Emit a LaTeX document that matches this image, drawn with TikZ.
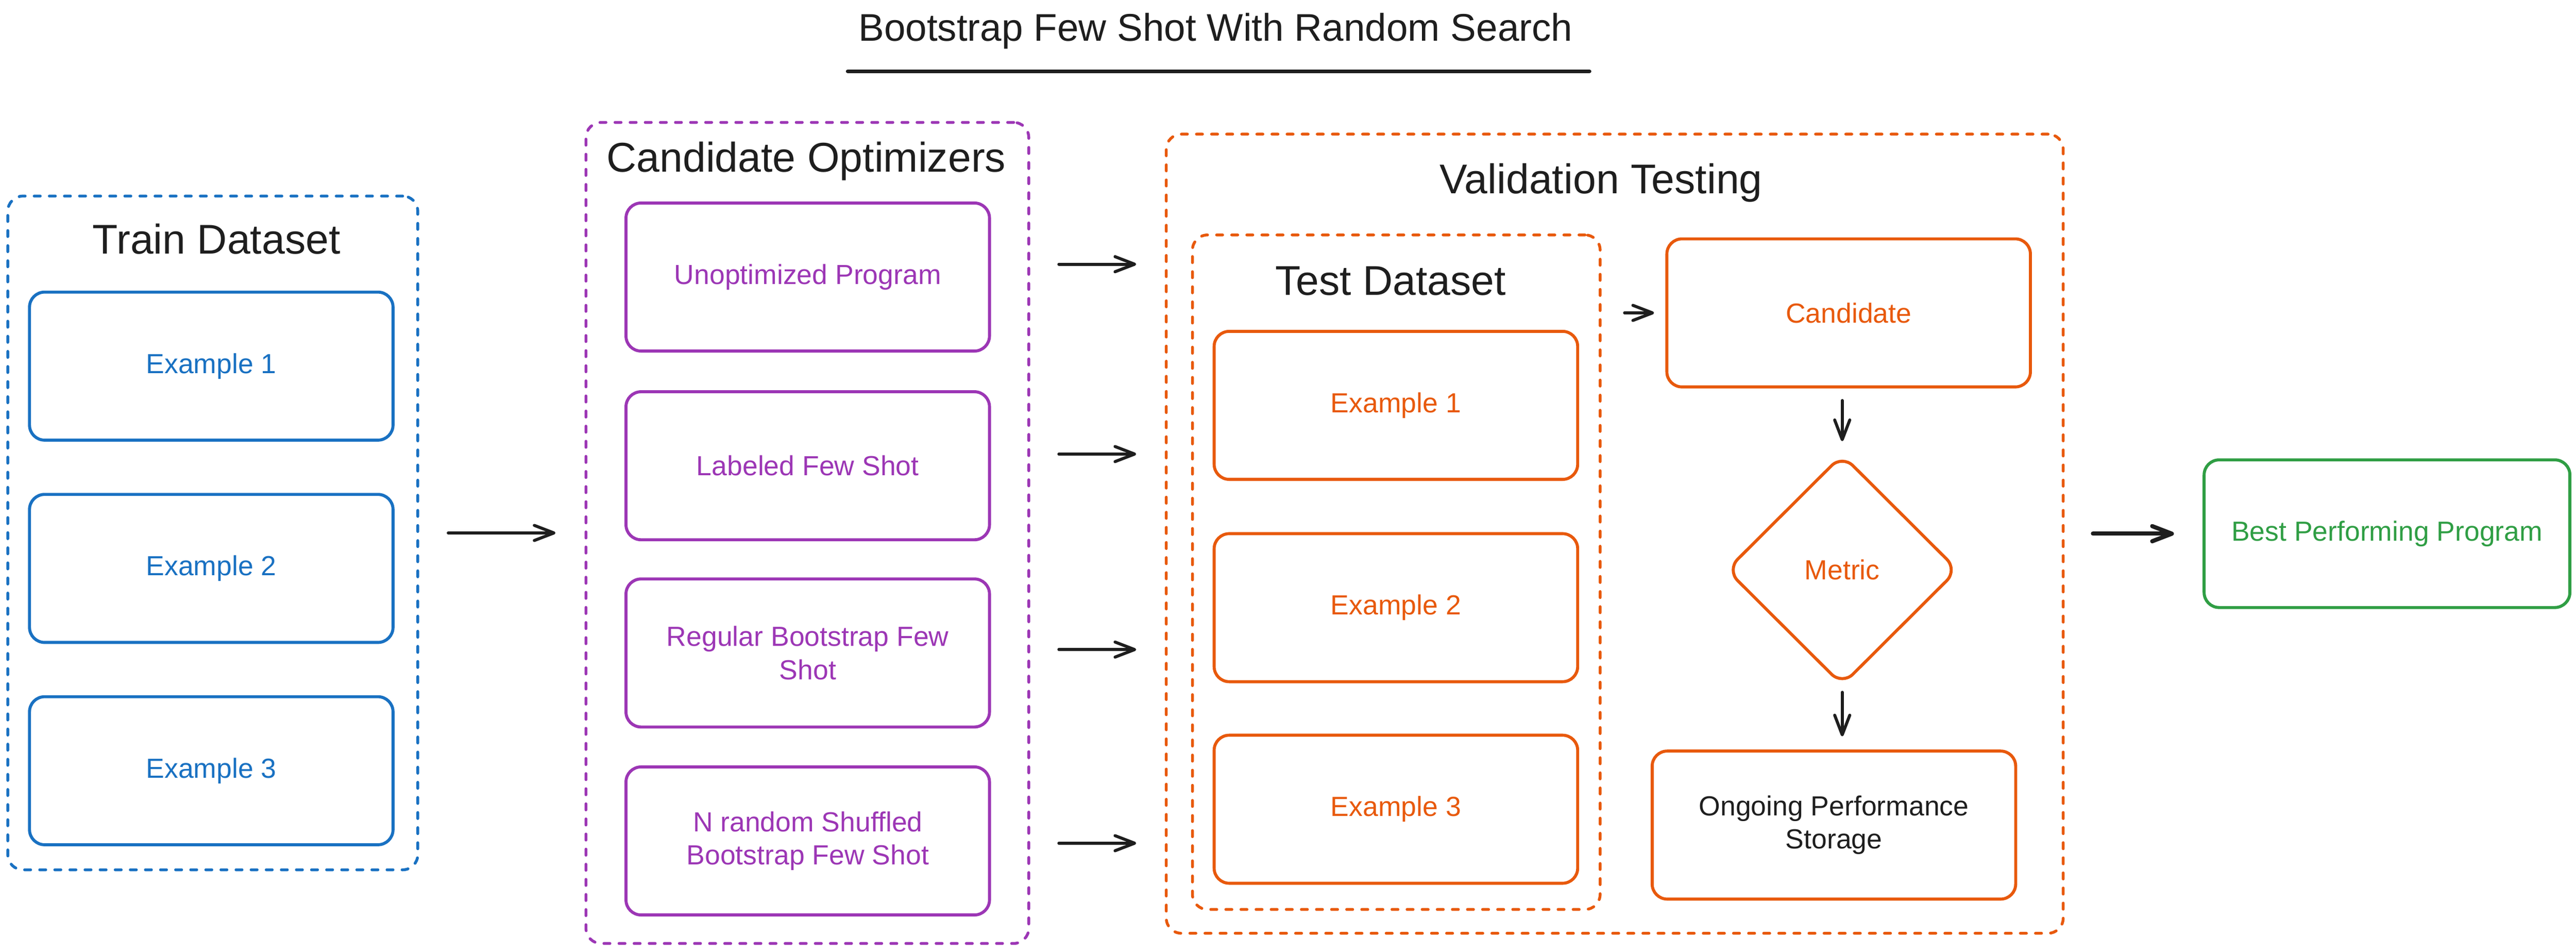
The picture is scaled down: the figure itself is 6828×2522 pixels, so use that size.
\documentclass[tikz,border=0pt]{standalone}
\usepackage{fontspec}
\setmainfont{Liberation Sans}
\usetikzlibrary{arrows.meta,shapes.geometric}
\definecolor{exblue}{HTML}{1971C2}
\definecolor{exviolet}{HTML}{9C36B5}
\definecolor{exorange}{HTML}{E8590C}
\definecolor{exgreen}{HTML}{2F9E44}
\definecolor{exblack}{HTML}{1E1E1E}
\newcommand{\fsnode}{\fontsize{20.8pt}{25pt}\selectfont}
\newcommand{\fssec}{\fontsize{31.3pt}{38pt}\selectfont}
\newcommand{\fsmain}{\fontsize{29pt}{35pt}\selectfont}
\tikzset{
  card/.style={draw, rounded corners=0.4cm, line width=0.08cm, inner sep=0pt,
    align=center, font=\fsnode, minimum width=9.63cm, minimum height=3.92cm},
  container/.style={draw, rounded corners=0.4cm, line width=0.075cm, line cap=round,
    dash pattern=on 0.16cm off 0.24cm, inner sep=0pt},
  sectitle/.style={anchor=base, font=\fssec, text=exblack, inner sep=0pt},
  arr/.style={draw=exblack, line width=0.08cm, line cap=round,
    -{Straight Barb[length=0.52cm, width=0.4cm, round]}},
  bigarr/.style={arr, line width=0.11cm},
}
\begin{document}
\begin{tikzpicture}[x=0.01cm, y=-0.01cm]
\fill[white] (0,0) rectangle (6828,2522);
\useasboundingbox (0,0) rectangle (6828,2522);

% title
\node[anchor=base, font=\fsmain, text=exblack, inner sep=0pt] (title) at (3222,108) {Bootstrap Few Shot With Random Search};
\coordinate (ulL) at (2247,189);
\coordinate (ulR) at (4213,189);
\draw[line width=0.1cm, exblack, line cap=round] (ulL) -- (ulR);

% Train dataset
\node[container, draw=exblue, minimum width=10.86cm, minimum height=17.84cm] (train) at (564,1412) {};
\node[sectitle] (traint) at (574,673) {Train Dataset};
\node[card, draw=exblue, text=exblue] (tr1) at (560,970) {Example 1};
\node[card, draw=exblue, text=exblue] (tr2) at (560,1506) {Example 2};
\node[card, draw=exblue, text=exblue] (tr3) at (560,2042) {Example 3};

% Candidate optimizers
\node[container, draw=exviolet, minimum width=11.73cm, minimum height=21.74cm] (cand) at (2140,1412) {};
\node[sectitle] (candt) at (2137,456) {Candidate Optimizers};
\node[card, draw=exviolet, text=exviolet] (uno) at (2141,734) {Unoptimized Program};
\node[card, draw=exviolet, text=exviolet] (lab) at (2141,1234) {Labeled Few Shot};
\node[card, draw=exviolet, text=exviolet] (reg) at (2141,1730) {Regular Bootstrap Few\\Shot};
\node[card, draw=exviolet, text=exviolet] (nrs) at (2141,2228) {N random Shuffled\\Bootstrap Few Shot};

% Validation testing
\node[container, draw=exorange, minimum width=23.76cm, minimum height=21.16cm] (valid) at (4280,1414) {};
\node[sectitle] (validt) at (4244,513) {Validation Testing};
\node[container, draw=exorange, minimum width=10.8cm, minimum height=17.86cm] (test) at (3701,1516) {};
\node[sectitle] (testt) at (3686,782) {Test Dataset};
\node[card, draw=exorange, text=exorange] (te1) at (3700,1074) {Example 1};
\node[card, draw=exorange, text=exorange] (te2) at (3700,1610) {Example 2};
\node[card, draw=exorange, text=exorange] (te3) at (3700,2144) {Example 3};
\node[card, draw=exorange, text=exorange] (candi) at (4900,829) {Candidate};
\node[diamond, draw=exorange, line width=0.08cm, rounded corners=0.4cm, inner sep=0pt,
  minimum width=6.14cm, minimum height=6.12cm, text=exorange, font=\fsnode] (metric) at (4883,1510) {Metric};
\node[card, draw=exorange, text=exblack] (ongo) at (4861,2186) {Ongoing Performance\\Storage};

% Best
\node[card, draw=exgreen, text=exgreen, minimum width=9.69cm, minimum height=3.91cm] (best) at (6327,1414) {Best Performing Program};

% connectors
\draw[arr, shorten <=0.77cm, shorten >=0.77cm] (train.east) -- (cand.west);
\draw[arr, shorten <=0.76cm, shorten >=0.76cm] (cand.east |- 0,700) -- (valid.west |- 0,700);
\draw[arr, shorten <=0.76cm, shorten >=0.76cm] (cand.east |- 0,1203) -- (valid.west |- 0,1203);
\draw[arr, shorten <=0.76cm, shorten >=0.76cm] (cand.east |- 0,1721) -- (valid.west |- 0,1721);
\draw[arr, shorten <=0.76cm, shorten >=0.76cm] (cand.east |- 0,2234) -- (valid.west |- 0,2234);
\draw[arr, shorten <=0.61cm, shorten >=0.30cm] (test.east |- candi.west) -- (candi.west);
\draw[arr, shorten <=0.32cm, shorten >=0.31cm] (metric.north |- candi.south) -- (metric.north);
\draw[arr, shorten <=0.14cm, shorten >=0.35cm] (metric.south) -- (metric.south |- ongo.north);
\draw[bigarr, shorten <=0.75cm, shorten >=0.76cm] (valid.east) -- (best.west);
\end{tikzpicture}
\end{document}
